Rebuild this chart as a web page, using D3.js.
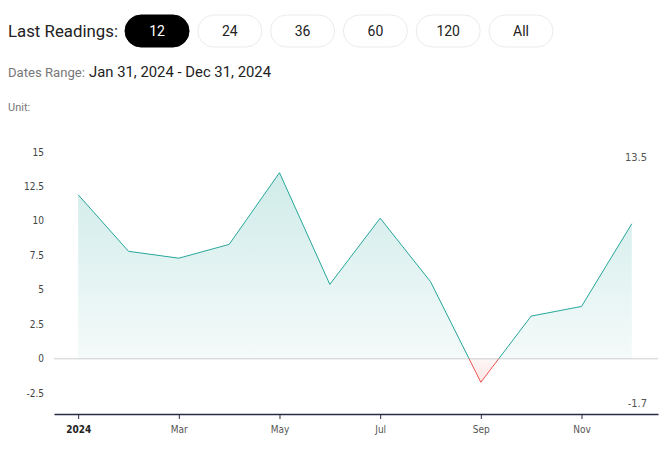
<!DOCTYPE html>
<html><head><meta charset="utf-8">
<script src="https://cdn.jsdelivr.net/npm/d3@7"></script>
<style>
body{margin:0;background:#fff;font-family:"Open Sans",sans-serif;}
svg{display:block;}
</style></head>
<body>
<svg id="c" width="667" height="466"></svg>
<script>
const months = ["Jan","Feb","Mar","Apr","May","Jun","Jul","Aug","Sep","Oct","Nov","Dec"];
const values = [11.9, 7.8, 7.3, 8.3, 13.5, 5.4, 10.2, 5.6, -1.7, 3.1, 3.8, 9.8];
const yTicks = [-2.5, 0, 2.5, 5, 7.5, 10, 12.5, 15];
const xTickIdx = [0, 2, 4, 6, 8, 10];
const xTickLabels = ["2024", "Mar", "May", "Jul", "Sep", "Nov"];
const buttons = ["12", "24", "36", "60", "120", "All"];
const dateRange = "Jan 31, 2024 - Dec 31, 2024";

const svg = d3.select("#c");
const data = values.map((v, i) => ({i, v}));

// Header
svg.append("text").attr("x", 8).attr("y", 37).attr("font-family", "Roboto, sans-serif")
  .attr("font-size", 17).attr("fill", "#222").attr("textLength", 110)
  .attr("lengthAdjust", "spacingAndGlyphs").text("Last Readings:");
const bx = d3.scaleBand().domain(buttons).range([125, 553]).paddingInner(0.12);
const bg = svg.selectAll("g.btn").data(buttons).join("g").attr("class", "btn")
  .attr("transform", d => `translate(${bx(d)},15)`);
bg.append("rect").attr("width", bx.bandwidth()).attr("height", 32).attr("rx", 16)
  .attr("fill", (d, i) => i === 0 ? "#000" : "#fff")
  .attr("stroke", (d, i) => i === 0 ? "#000" : "#ebebeb");
bg.append("text").attr("x", bx.bandwidth() / 2).attr("y", 21).attr("text-anchor", "middle")
  .attr("font-family", "Roboto, sans-serif").attr("font-size", 14)
  .attr("fill", (d, i) => i === 0 ? "#fff" : "#222").text(d => d);

svg.append("text").attr("x", 8).attr("y", 77).attr("font-family", "Roboto, sans-serif")
  .attr("font-size", 12).attr("fill", "#777").attr("textLength", 77)
  .attr("lengthAdjust", "spacingAndGlyphs").text("Dates Range:");
svg.append("text").attr("x", 89).attr("y", 77).attr("font-family", "Roboto, sans-serif")
  .attr("font-size", 15).attr("fill", "#222").attr("textLength", 182)
  .attr("lengthAdjust", "spacingAndGlyphs").text(dateRange);
svg.append("text").attr("x", 8).attr("y", 111).attr("font-family", "Roboto, sans-serif")
  .attr("font-size", 11).attr("fill", "#777").text("Unit:");

// Scales
const x = d3.scaleLinear().domain([-0.48, 11.52]).range([54, 658]);
const y = d3.scaleLinear().domain([-4, 15]).range([414, 152]);

// Gradients
const defs = svg.append("defs");
const gPos = defs.append("linearGradient").attr("id", "gpos").attr("gradientUnits", "userSpaceOnUse")
  .attr("x1", 0).attr("x2", 0).attr("y1", y(13.5)).attr("y2", y(0));
gPos.append("stop").attr("offset", 0).attr("stop-color", "#26a69a").attr("stop-opacity", 0.22);
gPos.append("stop").attr("offset", 1).attr("stop-color", "#26a69a").attr("stop-opacity", 0.05);
const gNeg = defs.append("linearGradient").attr("id", "gneg").attr("gradientUnits", "userSpaceOnUse")
  .attr("x1", 0).attr("x2", 0).attr("y1", y(0)).attr("y2", y(-1.7));
gNeg.append("stop").attr("offset", 0).attr("stop-color", "#ef5350").attr("stop-opacity", 0.05);
gNeg.append("stop").attr("offset", 1).attr("stop-color", "#ef5350").attr("stop-opacity", 0.15);
defs.append("clipPath").attr("id", "cpos").append("rect")
  .attr("x", 0).attr("y", 0).attr("width", 667).attr("height", y(0));
defs.append("clipPath").attr("id", "cneg").append("rect")
  .attr("x", 0).attr("y", y(0)).attr("width", 667).attr("height", 466 - y(0));

// Y tick labels
svg.append("g").selectAll("text").data(yTicks).join("text")
  .attr("x", 44).attr("y", d => y(d)).attr("dy", "0.35em").attr("text-anchor", "end")
  .attr("font-family", "DejaVu Sans Condensed, DejaVu Sans, sans-serif").attr("font-size", 10)
  .attr("fill", "#444").text(d => d);

// Zero line
svg.append("line").attr("x1", 54).attr("x2", 658).attr("y1", y(0)).attr("y2", y(0))
  .attr("stroke", "#d0d0d0").attr("stroke-width", 1);

const area = d3.area().x(d => x(d.i)).y0(y(0)).y1(d => y(d.v));
const line = d3.line().x(d => x(d.i)).y(d => y(d.v));

svg.append("path").datum(data).attr("d", area).attr("fill", "url(#gpos)").attr("clip-path", "url(#cpos)");
svg.append("path").datum(data).attr("d", area).attr("fill", "url(#gneg)").attr("clip-path", "url(#cneg)");
svg.append("path").datum(data).attr("d", line).attr("fill", "none").attr("stroke", "#26a69a")
  .attr("stroke-width", 1).attr("clip-path", "url(#cpos)");
svg.append("path").datum(data).attr("d", line).attr("fill", "none").attr("stroke", "#ef5350")
  .attr("stroke-width", 1).attr("clip-path", "url(#cneg)");

// X axis
const xAxis = d3.axisBottom(x).tickValues(xTickIdx).tickSize(5).tickSizeOuter(0)
  .tickFormat((d, i) => xTickLabels[i]);
const ax = svg.append("g").attr("transform", `translate(0,${y(-4)})`).call(xAxis);
ax.select(".domain").attr("stroke", "#2b2b45").attr("stroke-width", 1.5);
ax.selectAll(".tick line").attr("stroke", "#2b2b45");
ax.selectAll(".tick text").attr("font-family", "DejaVu Sans Condensed, DejaVu Sans, sans-serif")
  .attr("font-size", 10).attr("dy", "1.1em")
  .attr("fill", (d, i) => i === 0 ? "#222" : "#555")
  .attr("font-weight", (d, i) => i === 0 ? "bold" : "normal");

// Max/min labels
const maxV = d3.max(values), minV = d3.min(values);
svg.append("text").attr("x", 647).attr("y", 157).attr("dy", "0.35em").attr("text-anchor", "end")
  .attr("font-family", "DejaVu Sans Condensed, DejaVu Sans, sans-serif").attr("font-size", 11)
  .attr("fill", "#555").text(maxV);
svg.append("text").attr("x", 647).attr("y", 403).attr("dy", "0.35em").attr("text-anchor", "end")
  .attr("font-family", "DejaVu Sans Condensed, DejaVu Sans, sans-serif").attr("font-size", 11)
  .attr("fill", "#555").text(minV);
</script>
</body></html>
